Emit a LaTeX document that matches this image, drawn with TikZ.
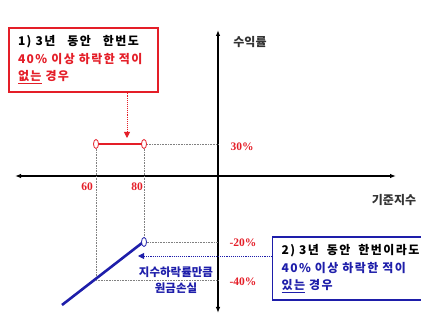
\documentclass[tikz,border=0pt]{standalone}
\usepackage{fontspec}
\setmainfont{Liberation Serif}
\newfontfamily\kr{Noto Sans CJK KR}
\newfontfamily\krwide{Noto Sans CJK KR}[LetterSpace=12]
\usetikzlibrary{arrows.meta,shapes.geometric}
\definecolor{lossred}{RGB}{228,30,40}
\definecolor{lossblue}{RGB}{30,30,170}
\tikzset{
  knot/.style={ellipse,draw,fill=white,line width=0.8pt,minimum width=5pt,minimum height=9pt,inner sep=0pt},
  guide/.style={densely dotted,gray,line width=0.6pt},
  numlab/.style={text=lossred,font=\fontsize{11.5}{13}\selectfont\bfseries},
  axislab/.style={font=\kr\fontsize{12}{14}\selectfont\bfseries,text=black!80},
  casebox/.style={draw,line width=1.3pt,align=left,inner xsep=9pt,font=\krwide\fontsize{12}{17.5}\selectfont\bfseries,text=black}
}
\begin{document}
\begin{tikzpicture}[x=1pt,y=-1pt]
  \useasboundingbox (0,0) rectangle (421,336);
  \clip (0,0) rectangle (421,336);
  % axes
  \coordinate (xl) at (15,176);
  \coordinate (xr) at (396,176);
  \coordinate (yt) at (218,30);
  \coordinate (yb) at (218,313);
  \draw[line width=1.1pt,{Latex[length=6pt]}-{Latex[length=6pt]}] (xl) -- (xr);
  \draw[line width=1.1pt,{Latex[length=6pt]}-{Latex[length=6pt]}] (yb) -- (yt);
  \draw
    (250,42) node[axislab] (ylab){수익률}
    (394,200) node[axislab] (xlab){기준지수}
    (87,187) node[numlab] (n60){60}
    (137,187) node[numlab] (n80){80}
    (242,147) node[numlab] (p30){30\%}
    (243,243) node[numlab] (m20){-20\%}
    (243,282) node[numlab] (m40){-40\%}
    (176,280) node[font=\kr\fontsize{11.5}{16}\selectfont\bfseries,text=lossblue,align=center,inner sep=0pt] (loss){지수하락률만큼\\원금손실};
  \coordinate (c60) at (96,280);
  \coordinate (y40) at (218,280);
  \coordinate (y20) at (218,242);
  \coordinate (y30) at (218,144);
  \coordinate (lowend) at (62,305);
  % guides
  \begin{scope}[guide]
    \draw (96,144) -- (c60) -- (y40);
    \draw (144,144) -- (144,242) -- (y20);
    \draw (144,144) -- (y30);
  \end{scope}
  % payoff
  \draw[lossred,line width=2.6pt] (96,144) -- (144,144);
  \draw[lossblue,line width=2.6pt] (lowend) -- (142,243);
  \draw
    (96,144) node[knot,draw=lossred] (a60){}
    (144,144) node[knot,draw=lossred] (a80){}
    (144,242) node[knot,draw=lossblue] (b80){};
  % cases
  \node[casebox,draw=lossred,minimum width=149pt,minimum height=64pt,text width=131pt] (case1) at (83.5,60)
    {1) 3년 \ \ 동안 \ \ 한번도\\\textcolor{lossred}{40\% 이상 하락한 적이}\\\textcolor{lossred}{\underline{없는} 경우}};
  \node[casebox,draw=lossblue,minimum width=170pt,minimum height=63pt,text width=152pt,anchor=west] (case2) at (272,268.5)
    {2) 3년 \ 동안 \ 한번이라도\\\textcolor{lossblue}{40\% 이상 하락한 적이}\\\textcolor{lossblue}{\underline{있는} 경우}};
  \coordinate (hit1) at (127,138);
  \coordinate (hit2) at (138,256);
  \draw[lossred,densely dotted,line width=0.9pt,-{Triangle[length=6pt,width=6pt]}] (case1.south -| hit1) -- (hit1);
  \draw[lossblue,densely dotted,line width=0.9pt,-{Triangle[length=6pt,width=6pt]}] (case2.west |- hit2) -- (hit2);
\end{tikzpicture}
\end{document}
